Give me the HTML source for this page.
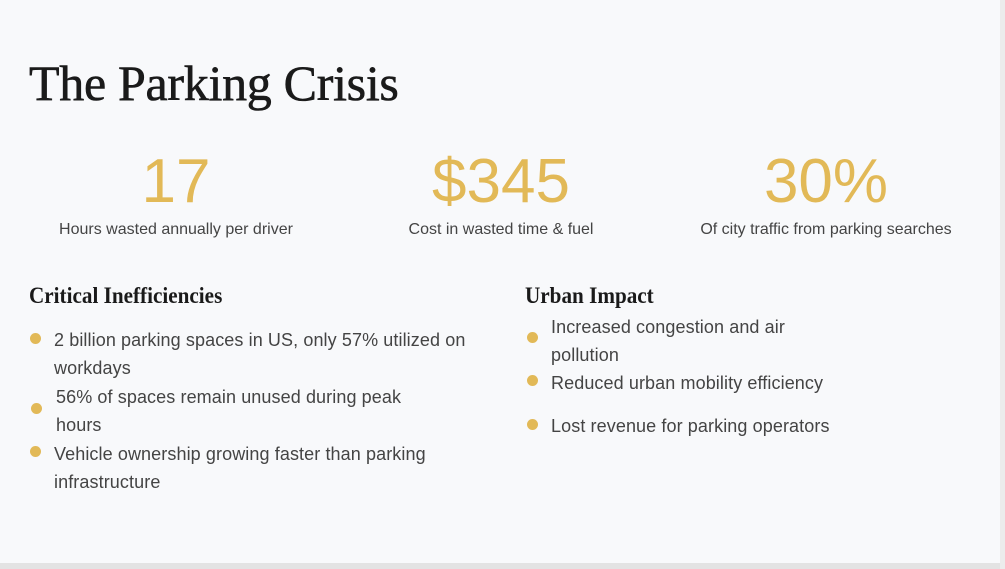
<!DOCTYPE html>
<html><head><style>
body{margin:0;width:1005px;height:569px;background:#f8f9fb;position:relative;overflow:hidden;font-family:"Liberation Sans",sans-serif;color:#444}
.a{position:absolute;white-space:nowrap}
.t{left:29px;top:54px;font-family:"Liberation Serif",serif;font-size:50px;color:#1a1a1a;letter-spacing:-0.3px;-webkit-text-stroke:0.6px #1a1a1a}
.n{font-size:62px;color:#e2b957;text-align:center;width:300px;top:146px}
.l{font-size:16px;color:#444;text-align:center;width:340px;top:221px}
.h{font-family:"Liberation Serif",serif;font-weight:bold;font-size:23px;color:#1a1a1a;top:283px;transform:scaleX(0.92);transform-origin:left}
.b{font-size:18px;color:#444;line-height:27.5px;white-space:normal;letter-spacing:0.1px}
.d{position:absolute;width:11px;height:11px;border-radius:50%;background:#e2b957}
</style></head><body>
<div class="a t">The Parking Crisis</div>
<div class="a n" style="left:26px">17</div>
<div class="a n" style="left:351px">$345</div>
<div class="a n" style="left:676px">30%</div>
<div class="a l" style="left:6px">Hours wasted annually per driver</div>
<div class="a l" style="left:331px">Cost in wasted time &amp; fuel</div>
<div class="a l" style="left:656px">Of city traffic from parking searches</div>
<div class="a h" style="left:29px">Critical Inefficiencies</div>
<div class="a h" style="left:525px">Urban Impact</div>
<div class="d" style="left:30px;top:333px"></div>
<div class="a b" style="left:54px;top:327px;width:425px">2 billion parking spaces in US, only 57% utilized on workdays</div>
<div class="d" style="left:31px;top:403px"></div>
<div class="a b" style="left:56px;top:384px;width:360px">56% of spaces remain unused during peak hours</div>
<div class="d" style="left:30px;top:446px"></div>
<div class="a b" style="left:54px;top:441px;width:400px">Vehicle ownership growing faster than parking infrastructure</div>
<div class="d" style="left:527px;top:332px"></div>
<div class="a b" style="left:551px;top:314px;width:280px">Increased congestion and air pollution</div>
<div class="d" style="left:527px;top:375px"></div>
<div class="a b" style="left:551px;top:370px">Reduced urban mobility efficiency</div>
<div class="d" style="left:527px;top:419px"></div>
<div class="a b" style="left:551px;top:413px">Lost revenue for parking operators</div>
<div style="position:absolute;left:0;top:563px;width:1005px;height:6px;background:#e3e3e3"></div>
<div style="position:absolute;left:1000px;top:0;width:5px;height:569px;background:#ececec"></div>
</body></html>
